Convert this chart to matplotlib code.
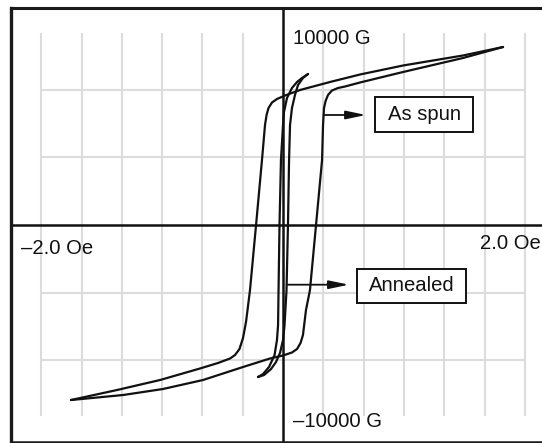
import matplotlib
matplotlib.use("Agg")
import matplotlib.pyplot as plt
from matplotlib.patches import Rectangle

plt.rcParams["font.family"] = ["Liberation Sans", "DejaVu Sans"]

# B-H hysteresis loops: H in Oe, B in gauss
# As-spun ribbon, descending branch (from +H_max to -H_max)
as_spun_desc_H = [1.820, 1.489, 0.993, 0.637, 0.389, 0.141, 0.017, -0.050, -0.091,
                  -0.120, -0.136, -0.149, -0.174, -0.223, -0.273, -0.306, -0.331,
                  -0.360, -0.397, -0.438, -0.538, -0.687, -1.017, -1.373, -1.754]
as_spun_desc_B = [9229, 8789, 8270, 7803, 7415, 7000, 6715, 6533, 6352,
                  6066, 5704, 5185, 3370, 0, -3370, -5029, -5859,
                  -6429, -6741, -6922, -7155, -7440, -8037, -8555, -9074]
# As-spun ribbon, ascending branch (from -H_max to +H_max)
as_spun_asc_H = [-1.754, -1.323, -0.993, -0.662, -0.331, -0.108, 0.000, 0.074, 0.116,
                 0.145, 0.165, 0.190, 0.223, 0.273, 0.323, 0.331, 0.339, 0.352,
                 0.372, 0.405, 0.455, 0.513, 0.637, 0.993, 1.489, 1.820]
as_spun_asc_B = [-9074, -8815, -8503, -8037, -7363, -6922, -6766, -6611, -6429,
                 -6118, -5704, -4407, -3370, 0, 3370, 5185, 6066, 6429,
                 6741, 6974, 7103, 7181, 7389, 7933, 8659, 9229]

# Annealed ribbon, descending branch
annealed_desc_H = [0.207, 0.157, 0.116, 0.074, 0.033, 0.008, 0.000, -0.017, -0.029,
                   -0.037, -0.041, -0.050, -0.070, -0.116, -0.165, -0.207]
annealed_desc_B = [7829, 7622, 7415, 7103, 6585, 5859, 5185, 3370, 0,
                   -3370, -5185, -5963, -6741, -7363, -7726, -7881]
# Annealed ribbon, ascending branch
annealed_asc_H = [-0.207, -0.157, -0.099, -0.058, -0.025, 0.000, 0.012, 0.029, 0.041,
                  0.050, 0.058, 0.074, 0.099, 0.124, 0.165, 0.207]
annealed_asc_B = [-7881, -7778, -7466, -7103, -6637, -5963, -5237, -3370, 0,
                  3370, 5185, 6066, 6741, 7259, 7622, 7829]

# Grid positions and axis captions
grid_H = [-2.0, -5 / 3, -4 / 3, -1.0, -2 / 3, -1 / 3, 1 / 3, 2 / 3, 1.0, 4 / 3, 5 / 3, 2.0]
grid_B = [-7000, -3500, 3500, 7000]
h_captions = ["\u20132.0 Oe", "2.0 Oe"]
b_captions = ["10000 G", "\u201310000 G"]
curve_labels = ["As spun", "Annealed"]

fig = plt.figure(figsize=(5.42, 4.43), dpi=100)
ax = fig.add_axes([11 / 542, 1.5 / 443, 534 / 542, 434 / 443])
ax.set_xlim(-2.250, 2.167)
ax.set_ylim(-11225, 11277)
ax.set_xticks([])
ax.set_yticks([])
ax.spines["right"].set_visible(False)
for side, lw in (("left", 2.4), ("top", 2.2), ("bottom", 1.8)):
    ax.spines[side].set_linewidth(lw)
    ax.spines[side].set_color("#1a1a1a")

grid_kw = dict(color="#dcdcdc", lw=1.5, zorder=1)
ax.vlines(grid_H, -9900, 9950, **grid_kw)
ax.hlines(grid_B, -2.0, 2.0, **grid_kw)

ax.axhline(0, color="#111111", lw=1.8, zorder=2)
ax.axvline(0, color="#111111", lw=1.8, zorder=2)

curve_kw = dict(color="#111111", lw=1.6, solid_joinstyle="round",
                solid_capstyle="round", zorder=3)
ax.plot(as_spun_desc_H, as_spun_desc_B, **curve_kw)
ax.plot(as_spun_asc_H, as_spun_asc_B, **curve_kw)
ax.plot(annealed_desc_H, annealed_desc_B, **curve_kw)
ax.plot(annealed_asc_H, annealed_asc_B, **curve_kw)

font_kw = dict(fontsize=14.6, color="#111111")
ax.text(-2.170, -1193, h_captions[0], ha="left", va="center", **font_kw)
ax.text(1.632, -970, h_captions[1], ha="left", va="center", **font_kw)
ax.text(0.080, 9670, b_captions[0], ha="left", va="center", **font_kw)
ax.text(0.080, -10199, b_captions[1], ha="left", va="center", **font_kw)

arrow_kw = dict(arrowstyle="-|>,head_length=1.2,head_width=0.25", mutation_scale=10,
                lw=1.3, color="#111111", shrinkA=0, shrinkB=0)
box_kw = dict(facecolor="white", edgecolor="#111111", lw=1.4, zorder=4)

# As-spun callout
ax.annotate("", xy=(0.687, 5704), xytext=(0.335, 5704), arrowprops=arrow_kw, zorder=4)
ax.add_patch(Rectangle((0.763, 4838), 0.811, 1784, **box_kw))
ax.text(1.169, 5729, curve_labels[0], ha="center", va="center", zorder=5, **font_kw)

# Annealed callout
ax.annotate("", xy=(0.546, -3095), xytext=(0.030, -3095), arrowprops=arrow_kw, zorder=4)
ax.add_patch(Rectangle((0.612, -4044), 0.902, 1778, **box_kw))
ax.text(1.063, -3155, curve_labels[1], ha="center", va="center", zorder=5, **font_kw)

fig.savefig("out.png", dpi=100)
